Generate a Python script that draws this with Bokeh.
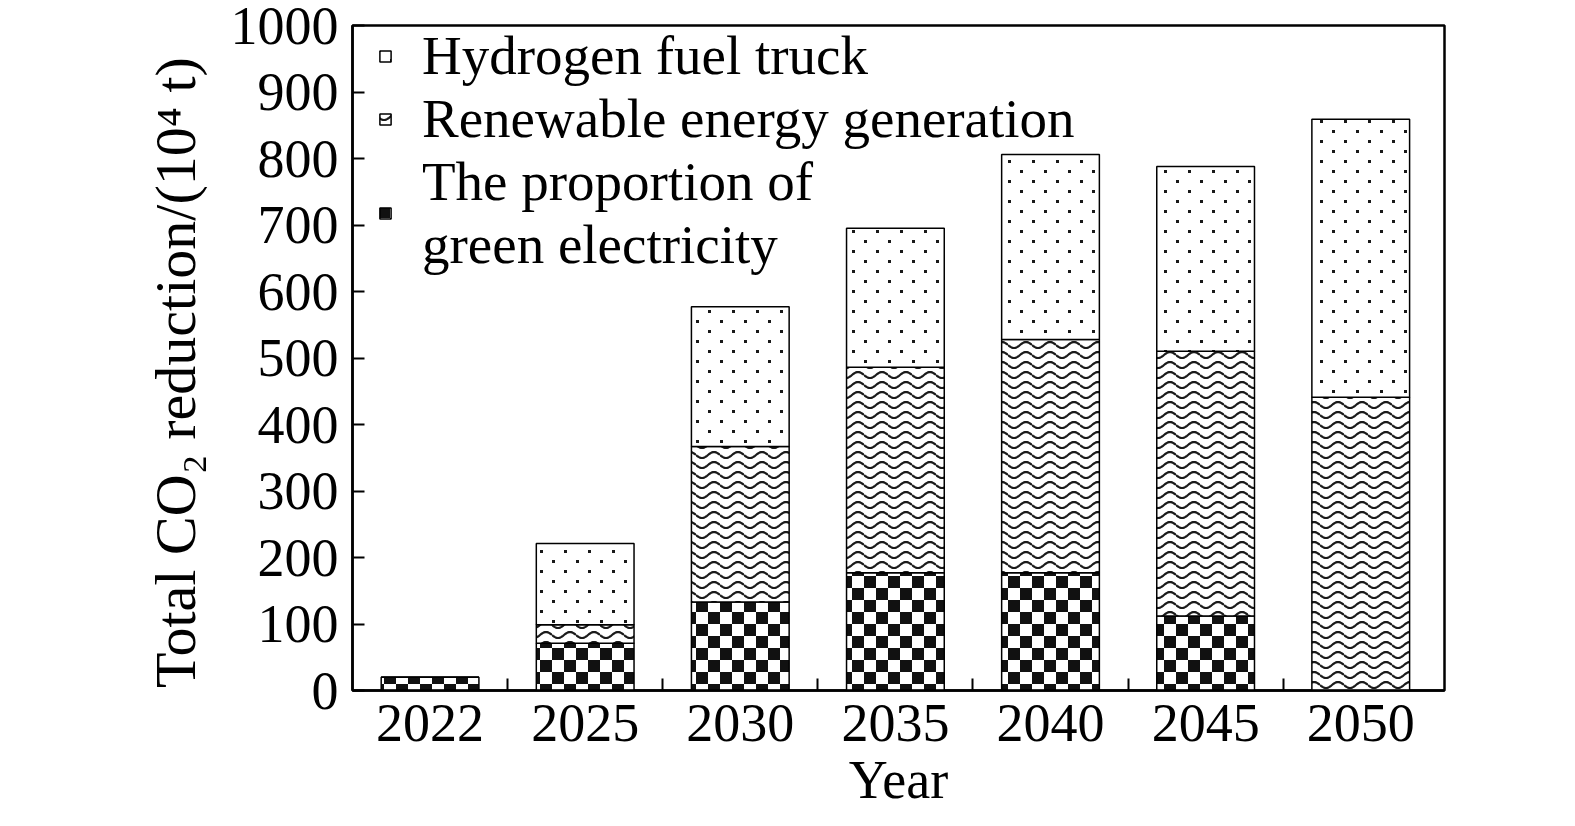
from bokeh.plotting import figure
from bokeh.models import (ColumnDataSource, Range1d, FixedTicker, LinearAxis,
                          Legend, LegendItem, CanvasTexture)
from bokeh.core.properties import value
from bokeh.embed import file_html
from bokeh.resources import INLINE

years = ["2022", "2025", "2030", "2035", "2040", "2045", "2050"]
green_electricity = [20, 71, 133, 177, 177, 112, 0]
renewable_energy = [0, 28, 234, 309, 351, 398, 441]
hydrogen_truck = [0, 122, 210, 209, 278, 278, 418]
y_ticks = [0, 100, 200, 300, 400, 500, 600, 700, 800, 900, 1000]

xs = [i + 0.5 for i in range(len(years))]
source = ColumnDataSource(dict(x=xs, green=green_electricity,
                               renew=renewable_energy, hydro=hydrogen_truck))

FONT = "Liberation Serif"

checker = CanvasTexture(code="""
var c = ctx.canvas; c.width = 24; c.height = 24;
ctx.fillStyle = "#111111";
ctx.fillRect(0, 0, 12, 12);
ctx.fillRect(12, 12, 12, 12);
""")
waves = CanvasTexture(code="""
var c = ctx.canvas; c.width = 24; c.height = 10;
ctx.strokeStyle = "#1a1a1a";
ctx.lineWidth = 2.2;
ctx.beginPath();
for (var i = 0; i <= 24; i++) {
  var y = 5 + 3 * Math.sin(2 * Math.PI * i / 24);
  if (i == 0) ctx.moveTo(i, y); else ctx.lineTo(i, y);
}
ctx.stroke();
""")
dots = CanvasTexture(code="""
var c = ctx.canvas; c.width = 24; c.height = 20;
ctx.fillStyle = "#1a1a1a";
ctx.fillRect(0, 0, 3, 3);
ctx.fillRect(12, 10, 3, 3);
""")
extra = {"checker": checker, "waves": waves, "dots": dots}

p = figure(width=1545, height=826, output_backend="svg", toolbar_location=None,
           x_range=Range1d(0, 7.04), y_range=Range1d(0, 1000),
           min_border_left=352, min_border_right=101, min_border_top=25,
           min_border_bottom=136, x_axis_location=None, y_axis_location=None)

renderers = p.vbar_stack(["green", "renew", "hydro"], x="x", width=0.63, source=source,
                         fill_color="white", line_color="black", line_width=1.5,
                         hatch_color="black",
                         hatch_pattern=[value("checker"), value("waves"), value("dots")],
                         hatch_scale=24, hatch_weight=1,
                         hatch_extra=extra)

p.xgrid.visible = False
p.ygrid.visible = False
p.outline_line_color = "black"
p.outline_line_width = 2.5
p.background_fill_color = "white"
p.border_fill_color = "white"

# y axis
yax = LinearAxis(ticker=FixedTicker(ticks=y_ticks),
                 axis_label="Total CO\u2082 reduction/(10\u2074 t)\u00a0\u00a0")
yax.major_tick_in = 12
yax.major_tick_out = 0
yax.minor_tick_line_color = None
yax.major_tick_line_width = 2
yax.axis_line_width = 2.5
yax.major_label_text_font = FONT
yax.major_label_text_font_size = "54px"
yax.major_label_text_color = "black"
yax.major_label_standoff = 14
yax.axis_label_text_font = FONT
yax.axis_label_text_font_size = "58px"
yax.axis_label_text_font_style = "normal"
yax.axis_label_text_color = "black"
yax.axis_label_standoff = 20
p.add_layout(yax, "left")

# x tick marks between categories
tick_pos = [1, 2, 3, 4, 5, 6]
xtick = LinearAxis(ticker=FixedTicker(ticks=tick_pos))
xtick.major_label_overrides = {t: "" for t in tick_pos}
xtick.major_tick_in = 12
xtick.major_tick_out = 0
xtick.major_tick_line_width = 2
xtick.minor_tick_line_color = None
xtick.axis_line_width = 2.5
xtick.major_label_standoff = 0
p.add_layout(xtick, "below")

# x labels at category centres
xlab = LinearAxis(ticker=FixedTicker(ticks=xs), axis_label="Year")
xlab.major_label_overrides = {x: y for x, y in zip(xs, years)}
xlab.axis_line_color = None
xlab.major_tick_line_color = None
xlab.minor_tick_line_color = None
xlab.major_tick_out = 0
xlab.major_tick_in = 0
xlab.major_label_text_font = FONT
xlab.major_label_text_font_size = "54px"
xlab.major_label_text_color = "black"
xlab.major_label_standoff = 14
xlab.axis_label_text_font = FONT
xlab.axis_label_text_font_size = "54px"
xlab.axis_label_text_font_style = "normal"
xlab.axis_label_text_color = "black"
xlab.axis_label_standoff = 6
p.add_layout(xlab, "below")

legend = Legend(items=[
    LegendItem(label="Hydrogen fuel truck", renderers=[renderers[2]]),
    LegendItem(label="Renewable energy generation", renderers=[renderers[1]]),
    LegendItem(label="The proportion of\ngreen electricity", renderers=[renderers[0]]),
], location=(26, 414))
legend.border_line_color = None
legend.background_fill_alpha = 0
legend.label_text_font = FONT
legend.label_text_font_size = "55px"
legend.label_text_color = "black"
legend.label_text_line_height = 0.9
legend.glyph_width = 14
legend.glyph_height = 14
legend.label_standoff = 30
legend.spacing = -6
legend.padding = 0
legend.margin = 0
p.add_layout(legend, "center")

open("out.html", "w").write(file_html(p, INLINE))
